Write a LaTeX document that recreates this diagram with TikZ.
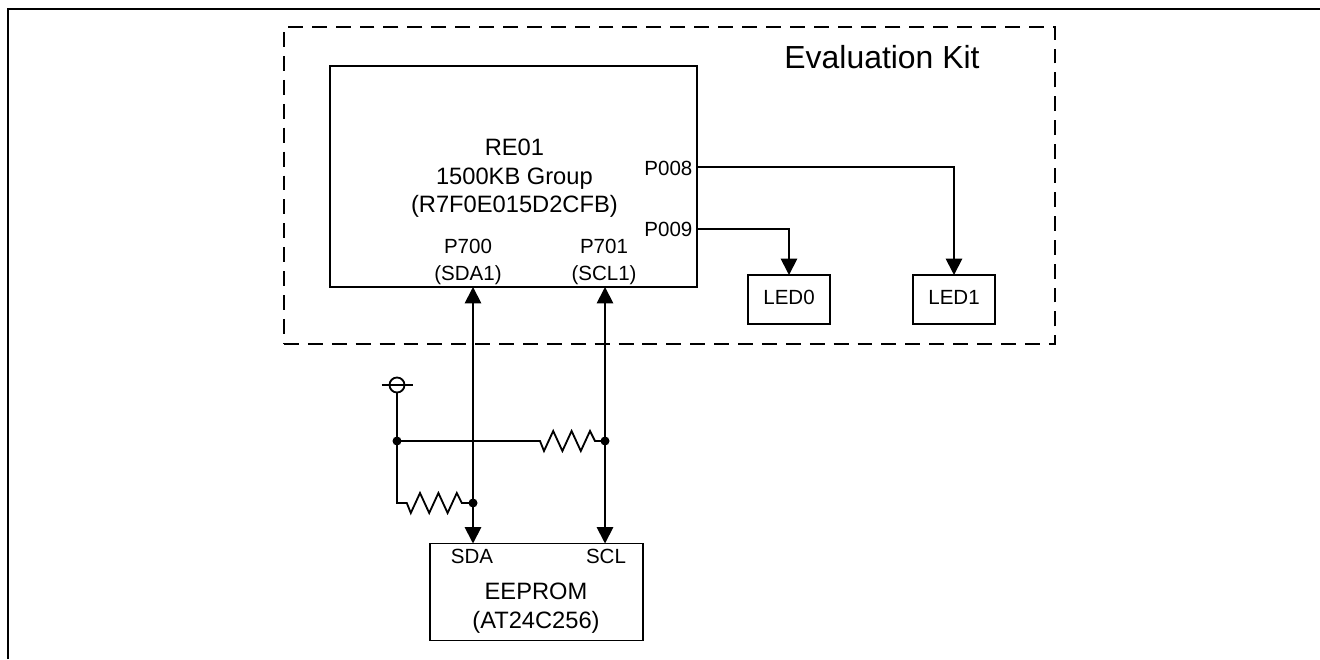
\documentclass[tikz,border=0pt]{standalone}
\usepackage{fontspec}
\setmainfont{Liberation Sans}
\usetikzlibrary{positioning,arrows.meta}

\newcommand{\rzigzag}{-- ++(0.1,-0.25) -- ++(0.23,0.5) -- ++(0.23,-0.5) -- ++(0.23,0.5) -- ++(0.23,-0.5) -- ++(0.23,0.5) -- ++(0.125,-0.25)}

\begin{document}
\begin{tikzpicture}[
    line width=1.3pt,
    >={Triangle[length=11.6pt,width=11.6pt]},
    block/.style={draw, outer sep=0pt, inner sep=0pt, align=center},
    bigtext/.style={font=\fontsize{16.85pt}{20.6pt}\selectfont, align=center},
    smalltext/.style={font=\fontsize{14.6pt}{19.5pt}\selectfont, align=center},
    ledblock/.style={block, smalltext, minimum width=2.05cm, minimum height=1.225cm, text depth=0.1cm},
    dot/.style={circle, fill, inner sep=0pt, minimum size=0.225cm}
]
  \useasboundingbox (0,0) rectangle (33,16.475);

  % cornice della pagina
  \coordinate (pagebl) at (0.2,0);
  \coordinate (pagetr) at (33,16.25);
  \draw[line width=2.1pt] (pagebl) |- (pagetr);

  % riquadro tratteggiato
  \node[block, dash pattern=on 10.6pt off 6.4pt, minimum width=19.275cm, minimum height=7.925cm] (kit) at (16.7375,11.8375) {};
  \node[font=\fontsize{22.7pt}{26pt}\selectfont] (kitlabel) at (22.05,15.05) {Evaluation Kit};

  % blocchi
  \node[block, minimum width=9.175cm, minimum height=5.525cm] (mcu) at (12.8375,12.0625) {};
  \node[bigtext] (mculabel) at (12.86,12.02) {RE01\\1500KB Group\\(R7F0E015D2CFB)};
  \node[ledblock] (led0) at (19.725,8.9875) {LED0};
  \node[ledblock] (led1) at (23.85,8.9875) {LED1};
  \node[block, minimum width=5.325cm, minimum height=2.425cm] (eeprom) at (13.4125,1.675) {};

  % etichette dei pin
  \node[smalltext] (p700) at (11.7,9.925) {P700\\(SDA1)};
  \node[smalltext] (p701) at (15.1,9.925) {P701\\(SCL1)};
  \node[smalltext, anchor=base east] (p008) at (17.45,12.075) {P008};
  \node[smalltext, anchor=base east] (p009) at (17.45,10.55) {P009};
  \node[smalltext, anchor=base] (sda) at (11.8,2.4) {SDA};
  \node[smalltext, anchor=base] (scl) at (15.15,2.4) {SCL};
  \node[bigtext] (eepromlabel) at (13.4,1.27) {EEPROM\\(AT24C256)};

  % nodi di giunzione
  \node[dot] (dotsda) at (11.825,3.9) {};
  \node[dot] (dotscl) at (15.125,5.45) {};
  \node[dot] (dotvcc) at (9.925,5.45) {};
  \node[circle, draw, inner sep=0pt, minimum size=0.375cm, outer sep=0pt] (vcc) at (9.925,6.85) {};
  \coordinate (rup) at (13.5,5.45);
  \coordinate (rlow) at (10.17,3.9);
  \coordinate (p8out) at (17.425,12.3);
  \coordinate (p9out) at (17.425,10.75);

  % uscite verso i led
  \draw[->] (p8out) -| (led1.north);
  \draw[->] (p9out) -| (led0.north);

  % bus I2C
  \draw[<->] (mcu.south -| dotsda) -- (eeprom.north -| dotsda);
  \draw[<->] (mcu.south -| dotscl) -- (eeprom.north -| dotscl);

  % alimentazione e resistenze di pull-up
  \draw ([xshift=-0.2cm]vcc.west) -- ([xshift=0.2cm]vcc.east);
  \draw (vcc.south) -- (dotvcc.center);
  \draw (dotvcc.center) -- (rup) \rzigzag -- (dotscl.center);
  \draw (dotvcc.center) |- (rlow) \rzigzag -- (dotsda.center);

\end{tikzpicture}
\end{document}
